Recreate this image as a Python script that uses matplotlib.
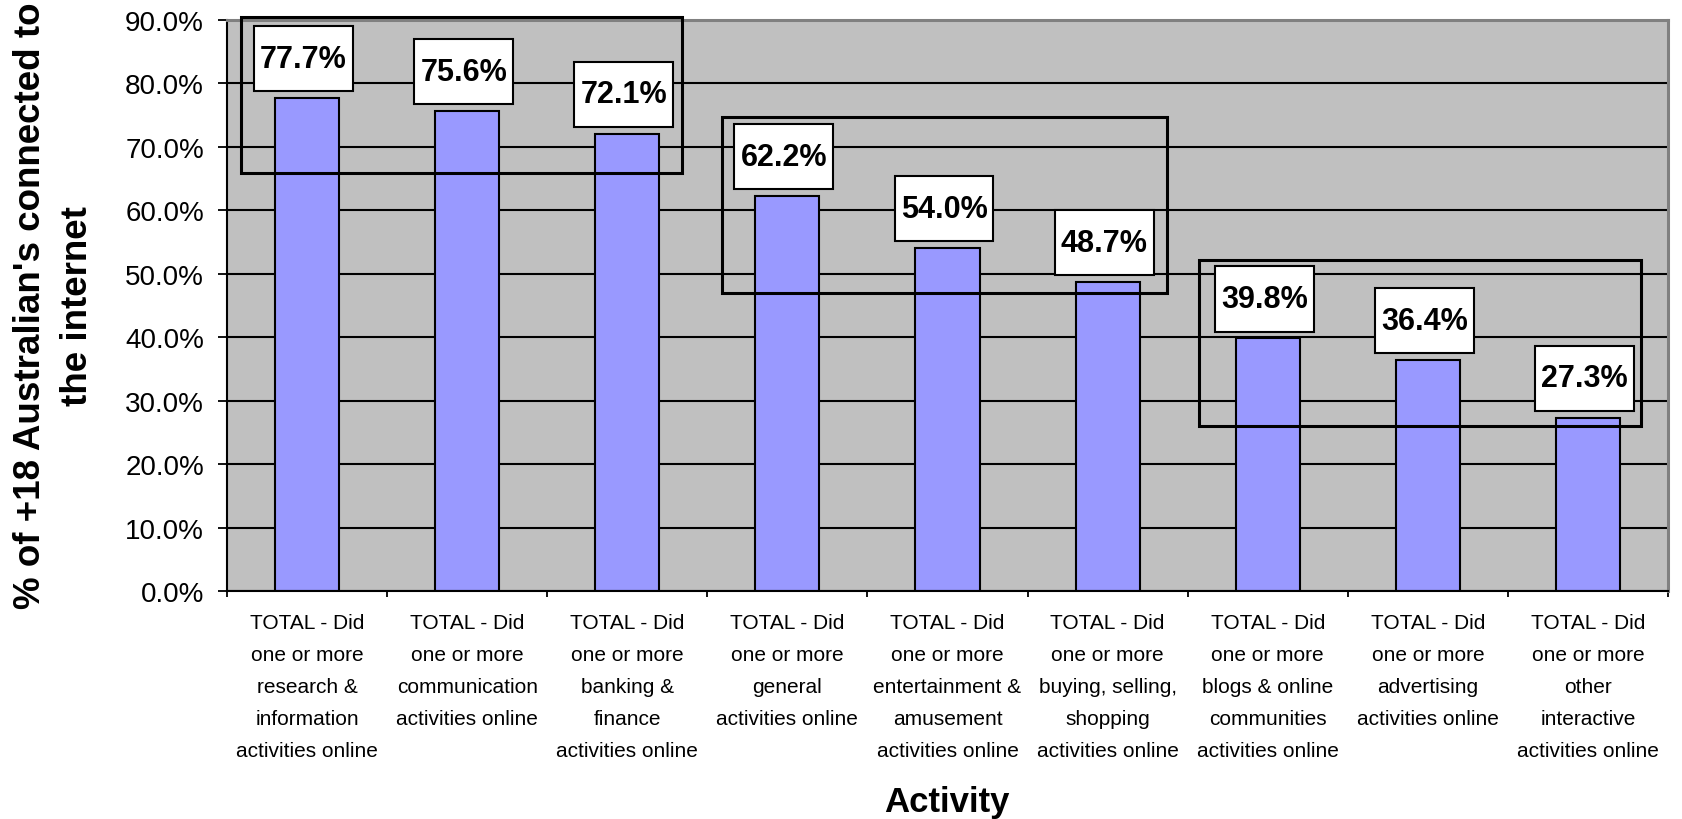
import matplotlib
matplotlib.use("Agg")
import matplotlib.pyplot as plt
from matplotlib.patches import Rectangle
from matplotlib.ticker import FixedLocator, FuncFormatter

# --- data -------------------------------------------------------------
activities = [
    "TOTAL - Did\none or more\nresearch &\ninformation\nactivities online",
    "TOTAL - Did\none or more\ncommunication\nactivities online",
    "TOTAL - Did\none or more\nbanking &\nfinance\nactivities online",
    "TOTAL - Did\none or more\ngeneral\nactivities online",
    "TOTAL - Did\none or more\nentertainment &\namusement\nactivities online",
    "TOTAL - Did\none or more\nbuying, selling,\nshopping\nactivities online",
    "TOTAL - Did\none or more\nblogs & online\ncommunities\nactivities online",
    "TOTAL - Did\none or more\nadvertising\nactivities online",
    "TOTAL - Did\none or more\nother\ninteractive\nactivities online",
]
share_pct = [77.7, 75.6, 72.1, 62.2, 54.0, 48.7, 39.8, 36.4, 27.3]
y_ticks = [0, 10, 20, 30, 40, 50, 60, 70, 80, 90]

y_title = "% of +18 Australian's connected to\nthe internet"
x_title = "Activity"

# outlined groups: (x left, x right, y bottom, y top) in axis units
group_frames = [
    (-0.41, 2.34, 65.9, 90.5),
    (2.59, 5.37, 47.0, 74.7),
    (5.57, 8.33, 26.0, 52.1),
]

# --- styling ----------------------------------------------------------
FONT = ["Liberation Sans", "DejaVu Sans"]
plt.rcParams["font.family"] = FONT
BAR_COLOR = "#9999FF"
PLOT_BG = "#C0C0C0"

W, H = 1682, 820
fig = plt.figure(figsize=(W / 100, H / 100), dpi=100)
fig.patch.set_facecolor("white")
ax = fig.add_axes([227 / W, 1 - 592 / H, 1441 / W, 571 / H])
ax.set_facecolor(PLOT_BG)

x = list(range(len(share_pct)))
ax.bar(x, share_pct, width=0.4, color=BAR_COLOR, edgecolor="black",
       linewidth=1.5, zorder=2)

ax.set_xlim(-0.5, len(share_pct) - 0.5)
ax.set_ylim(0, 90)

# gridlines
ax.yaxis.set_major_locator(FixedLocator(y_ticks))
ax.yaxis.grid(True, color="black", linewidth=1.5, zorder=0.5)
ax.set_axisbelow(True)
ax.yaxis.set_major_formatter(FuncFormatter(lambda v, _: f"{v:.1f}%"))
ax.tick_params(axis="y", which="major", direction="out", length=6.5,
               width=1.3, color="black", labelsize=20, pad=10)

# category labels centred, ticks on category boundaries
ax.set_xticks(x)
ax.set_xticklabels(activities, fontsize=15, linespacing=1.86,
                   multialignment="center")
ax.tick_params(axis="x", which="major", length=0, pad=16)
ax.xaxis.set_minor_locator(FixedLocator([i - 0.5 for i in range(len(x) + 1)]))
ax.tick_params(axis="x", which="minor", direction="out", length=4.5,
               width=1.3, color="black")

for side in ("left", "bottom"):
    ax.spines[side].set_color("black")
    ax.spines[side].set_linewidth(1.5)
for side in ("top", "right"):
    ax.spines[side].set_color("#808080")
    ax.spines[side].set_linewidth(2.2)

# value label boxes above each bar
box_w, box_h, gap, shift = 0.618, 10.25, 1.1, -0.022
for xi, v in zip(x, share_pct):
    ax.add_patch(Rectangle((xi + shift - box_w / 2, v + gap), box_w, box_h,
                           facecolor="white", edgecolor="black",
                           linewidth=1.5, zorder=3, clip_on=False))
    ax.text(xi + shift, v + gap + box_h / 2, f"{v:.1f}%", ha="center",
            va="center", fontsize=22, fontweight="bold", zorder=4)

# outline frames around the three activity groups
for x0, x1, y0, y1 in group_frames:
    ax.add_patch(Rectangle((x0, y0), x1 - x0, y1 - y0, facecolor="none",
                           edgecolor="black", linewidth=2.2, zorder=5,
                           clip_on=False))

# axis titles
fig.text(54 / W, 1 - 306 / H, y_title, rotation=90, ha="center", va="center",
         fontsize=26.5, fontweight="bold", linespacing=1.45,
         multialignment="center")
fig.text(947 / W, 1 - 812 / H, x_title, ha="center", va="baseline",
         fontsize=25, fontweight="bold")

fig.savefig("out.png", dpi=100)
